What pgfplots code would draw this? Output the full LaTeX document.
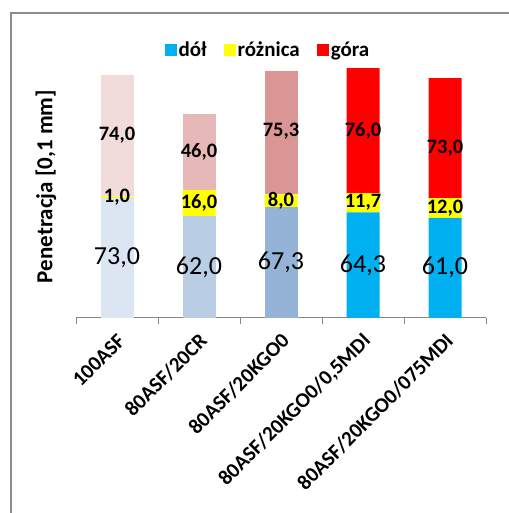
\documentclass[border=0pt]{standalone}
\usepackage{pgfplots}
\pgfplotsset{compat=1.18}
\usepackage{fontspec}
\setmainfont{Carlito}
\definecolor{dA}{HTML}{DCE6F2}
\definecolor{dB}{HTML}{B9CDE5}
\definecolor{dC}{HTML}{95B3D7}
\definecolor{dD}{HTML}{00B0F0}
\definecolor{yel}{HTML}{FFFF00}
\definecolor{gA}{HTML}{F2DCDB}
\definecolor{gB}{HTML}{E6B9B8}
\definecolor{gC}{HTML}{D99694}
\definecolor{gD}{HTML}{FF0000}
\definecolor{frame}{HTML}{8C8C8C}
\definecolor{axisgray}{HTML}{868686}
\begin{document}
\begin{tikzpicture}
\useasboundingbox (0,0) rectangle (508pt,513pt);
\draw[color=frame, line width=1.5pt] (11pt,-3pt) -- (11pt,500pt) -- (512pt,500pt);
\node[rotate=90, font=\bfseries\fontsize{23}{23}\selectfont] at (46pt,326.5pt) {Penetracja [0,1 mm]};
\begin{axis}[
  at={(76pt,195pt)}, anchor=south west,
  scale only axis, width=410pt, height=262.9pt,
  xmin=-0.5, xmax=4.5, ymin=0, ymax=160,
  ybar stacked, bar width=33pt,
  axis x line*=bottom, axis y line=none,
  axis line style={-, color=axisgray, line width=1pt},
  xtick={0,1,2,3,4},
  xticklabels={100ASF,80ASF/20CR,80ASF/20KGO0,{80ASF/20KGO0/0,5MDI},80ASF/20KGO0/075MDI},
  major tick length=0pt,
  minor xtick={-0.5,0.5,1.5,2.5,3.5,4.5},
  minor tick length=6pt,
  tick align=outside,
  tick style={color=axisgray, line width=1pt},
  xticklabel style={xshift=6pt, yshift=-18pt, rotate=45, anchor=east, font=\bfseries\fontsize{21}{21}\selectfont, inner sep=2pt},
  clip=false,
]
\addplot[fill=dA, draw=none] coordinates {(0,73) (1,0) (2,0) (3,0) (4,0)};
\addplot[fill=dB, draw=none] coordinates {(0,0) (1,62) (2,0) (3,0) (4,0)};
\addplot[fill=dC, draw=none] coordinates {(0,0) (1,0) (2,67.3) (3,0) (4,0)};
\addplot[fill=dD, draw=none] coordinates {(0,0) (1,0) (2,0) (3,64.3) (4,61)};
\addplot[fill=yel, draw=none] coordinates {(0,1) (1,16) (2,8) (3,11.7) (4,12)};
\addplot[fill=gA, draw=none] coordinates {(0,74) (1,0) (2,0) (3,0) (4,0)};
\addplot[fill=gB, draw=none] coordinates {(0,0) (1,46) (2,0) (3,0) (4,0)};
\addplot[fill=gC, draw=none] coordinates {(0,0) (1,0) (2,75.3) (3,0) (4,0)};
\addplot[fill=gD, draw=none] coordinates {(0,0) (1,0) (2,0) (3,76) (4,73)};
\end{axis}
\begin{axis}[
  at={(76pt,195pt)}, anchor=south west,
  scale only axis, width=410pt, height=262.9pt,
  xmin=-0.5, xmax=4.5, ymin=0, ymax=160,
  hide axis, clip=false,
  legend columns=-1,
  legend style={at={(0.468,1.019)}, anchor=center, draw=none, fill=none,
    font=\bfseries\fontsize{21}{21}\selectfont,
    /tikz/every even column/.append style={column sep=15pt},
    nodes={inner sep=2pt}},
  legend image code/.code={\fill[#1] (0pt,-6pt) rectangle (12pt,6pt);},
]
\addlegendimage{fill=dD, draw=none}
\addlegendentry{dół}
\addlegendimage{fill=yel, draw=none}
\addlegendentry{różnica}
\addlegendimage{fill=gD, draw=none}
\addlegendentry{góra}
\addplot[draw=none, mark=none, nodes near coords, point meta=explicit symbolic,
  every node near coord/.append style={anchor=center, inner sep=0pt, text=black, font=\fontsize{26}{26}\selectfont}]
  coordinates {(0,36.5) [73,0] (1,31) [62,0] (2,33.65) [67,3] (3,32.15) [64,3] (4,30.5) [61,0]};
\addplot[draw=none, mark=none, nodes near coords, point meta=explicit symbolic,
  every node near coord/.append style={anchor=center, inner sep=0pt, text=black, font=\bfseries\fontsize{20.5}{20.5}\selectfont}]
  coordinates {(0,73.5) [1,0] (1,70) [16,0] (2,71.3) [8,0] (3,70.15) [11,7] (4,67) [12,0]};
\addplot[draw=none, mark=none, nodes near coords, point meta=explicit symbolic,
  every node near coord/.append style={anchor=center, inner sep=0pt, text=black, font=\bfseries\fontsize{20.5}{20.5}\selectfont}]
  coordinates {(0,111) [74,0] (1,101) [46,0] (2,113.95) [75,3] (3,114) [76,0] (4,103.5) [73,0]};
\end{axis}
\end{tikzpicture}
\end{document}
